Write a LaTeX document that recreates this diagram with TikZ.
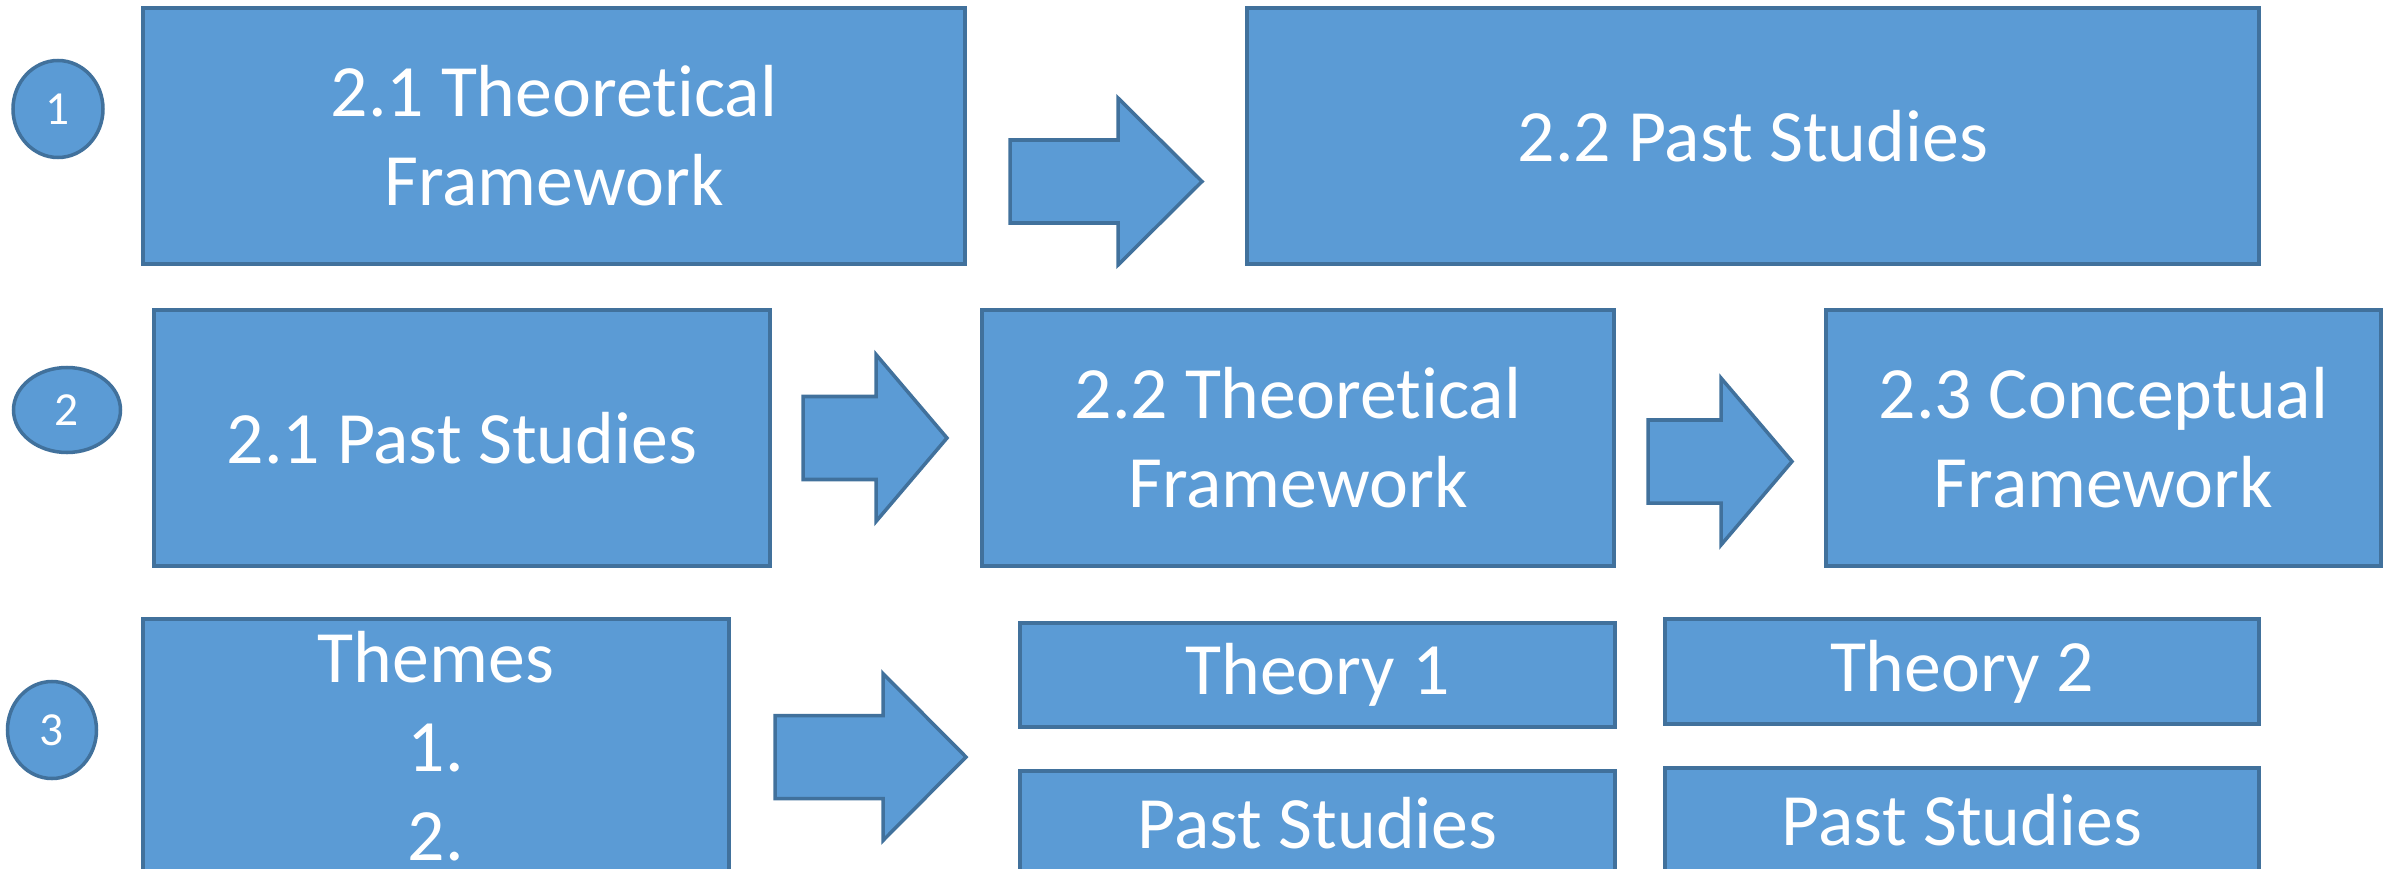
\documentclass[tikz,border=0pt]{standalone}
\usepackage{fontspec}
\setmainfont{Carlito}[Ligatures=NoCommon]
\usetikzlibrary{positioning,shapes.geometric}

\definecolor{boxblue}{HTML}{5B9BD5}
\definecolor{boxline}{HTML}{41719C}

\begin{document}
\begin{tikzpicture}
    % Define styles for the boxes, markers and block arrows
    \tikzset{
        topic box/.style={draw=boxline, fill=boxblue, line width=1pt, text=white,
            font=\fontsize{21}{25.3}\selectfont, align=center, inner sep=0pt},
        row mark/.style={ellipse, draw=boxline, fill=boxblue, line width=1pt, text=white,
            font=\fontsize{13.5}{16}\selectfont, inner sep=0pt},
        block arrow/.style={draw=boxline, fill=boxblue, line width=1pt, line join=miter}
    }

    \useasboundingbox (0,0) rectangle (23.9,8.68);
    \clip (0,0) rectangle (23.9,8.68);

    % Row 1
    \node[row mark, minimum width=0.90cm, minimum height=0.97cm] (mark1) at (0.58,7.59) {1};
    \node[topic box, minimum width=8.22cm, minimum height=2.56cm] (theory1) at (5.54,7.32) {2.1 Theoretical\\Framework};
    \node[topic box, minimum width=10.12cm, minimum height=2.56cm] (past1) at (17.53,7.32) {2.2 Past Studies};

    % Row 2
    \node[row mark, minimum width=1.07cm, minimum height=0.85cm] (mark2) at (0.67,4.58) {2};
    \node[topic box, minimum width=6.16cm, minimum height=2.56cm] (past2) at (4.62,4.30) {2.1 Past Studies};
    \node[topic box, minimum width=6.32cm, minimum height=2.56cm] (theory2) at (12.98,4.30) {2.2 Theoretical\\Framework};
    \node[topic box, minimum width=5.55cm, minimum height=2.56cm] (concept2) at (21.035,4.30) {2.3 Conceptual\\Framework};

    % Row 3
    \node[row mark, minimum width=0.89cm, minimum height=0.97cm] (mark3) at (0.52,1.38) {3};
    \node[topic box, text width=5.86cm, text height=0.64cm, text depth=2.6cm, anchor=north] (themes) at (4.36,2.51) {Themes\\1.\\2.};
    \node[topic box, minimum width=5.95cm, minimum height=1.04cm] (theoryA) at (13.175,1.93) {Theory 1};
    \node[topic box, minimum width=5.94cm, minimum height=1.05cm] (theoryB) at (19.62,1.965) {Theory 2};
    \node[topic box, minimum width=5.95cm, text height=0.78cm, text depth=1.2cm, anchor=north] (pastA) at (13.175,0.99) {Past Studies};
    \node[topic box, minimum width=5.94cm, text height=0.78cm, text depth=1.2cm, anchor=north] (pastB) at (19.62,1.02) {Past Studies};

    % Block arrows between the boxes
    \foreach \x/\y/\tail/\head in {10.10/6.865/1.08/0.84, 8.03/4.30/0.73/0.71, 16.48/4.065/0.73/0.71, 7.75/1.11/1.08/0.83} {
        \draw[block arrow] (\x,\y+0.415) -- ++(\tail,0) -- ++(0,0.42) -- ++(\head,-0.835)
            -- ++(-\head,-0.835) -- ++(0,0.42) -- ++(-\tail,0) -- cycle;
    }

\end{tikzpicture}
\end{document}
